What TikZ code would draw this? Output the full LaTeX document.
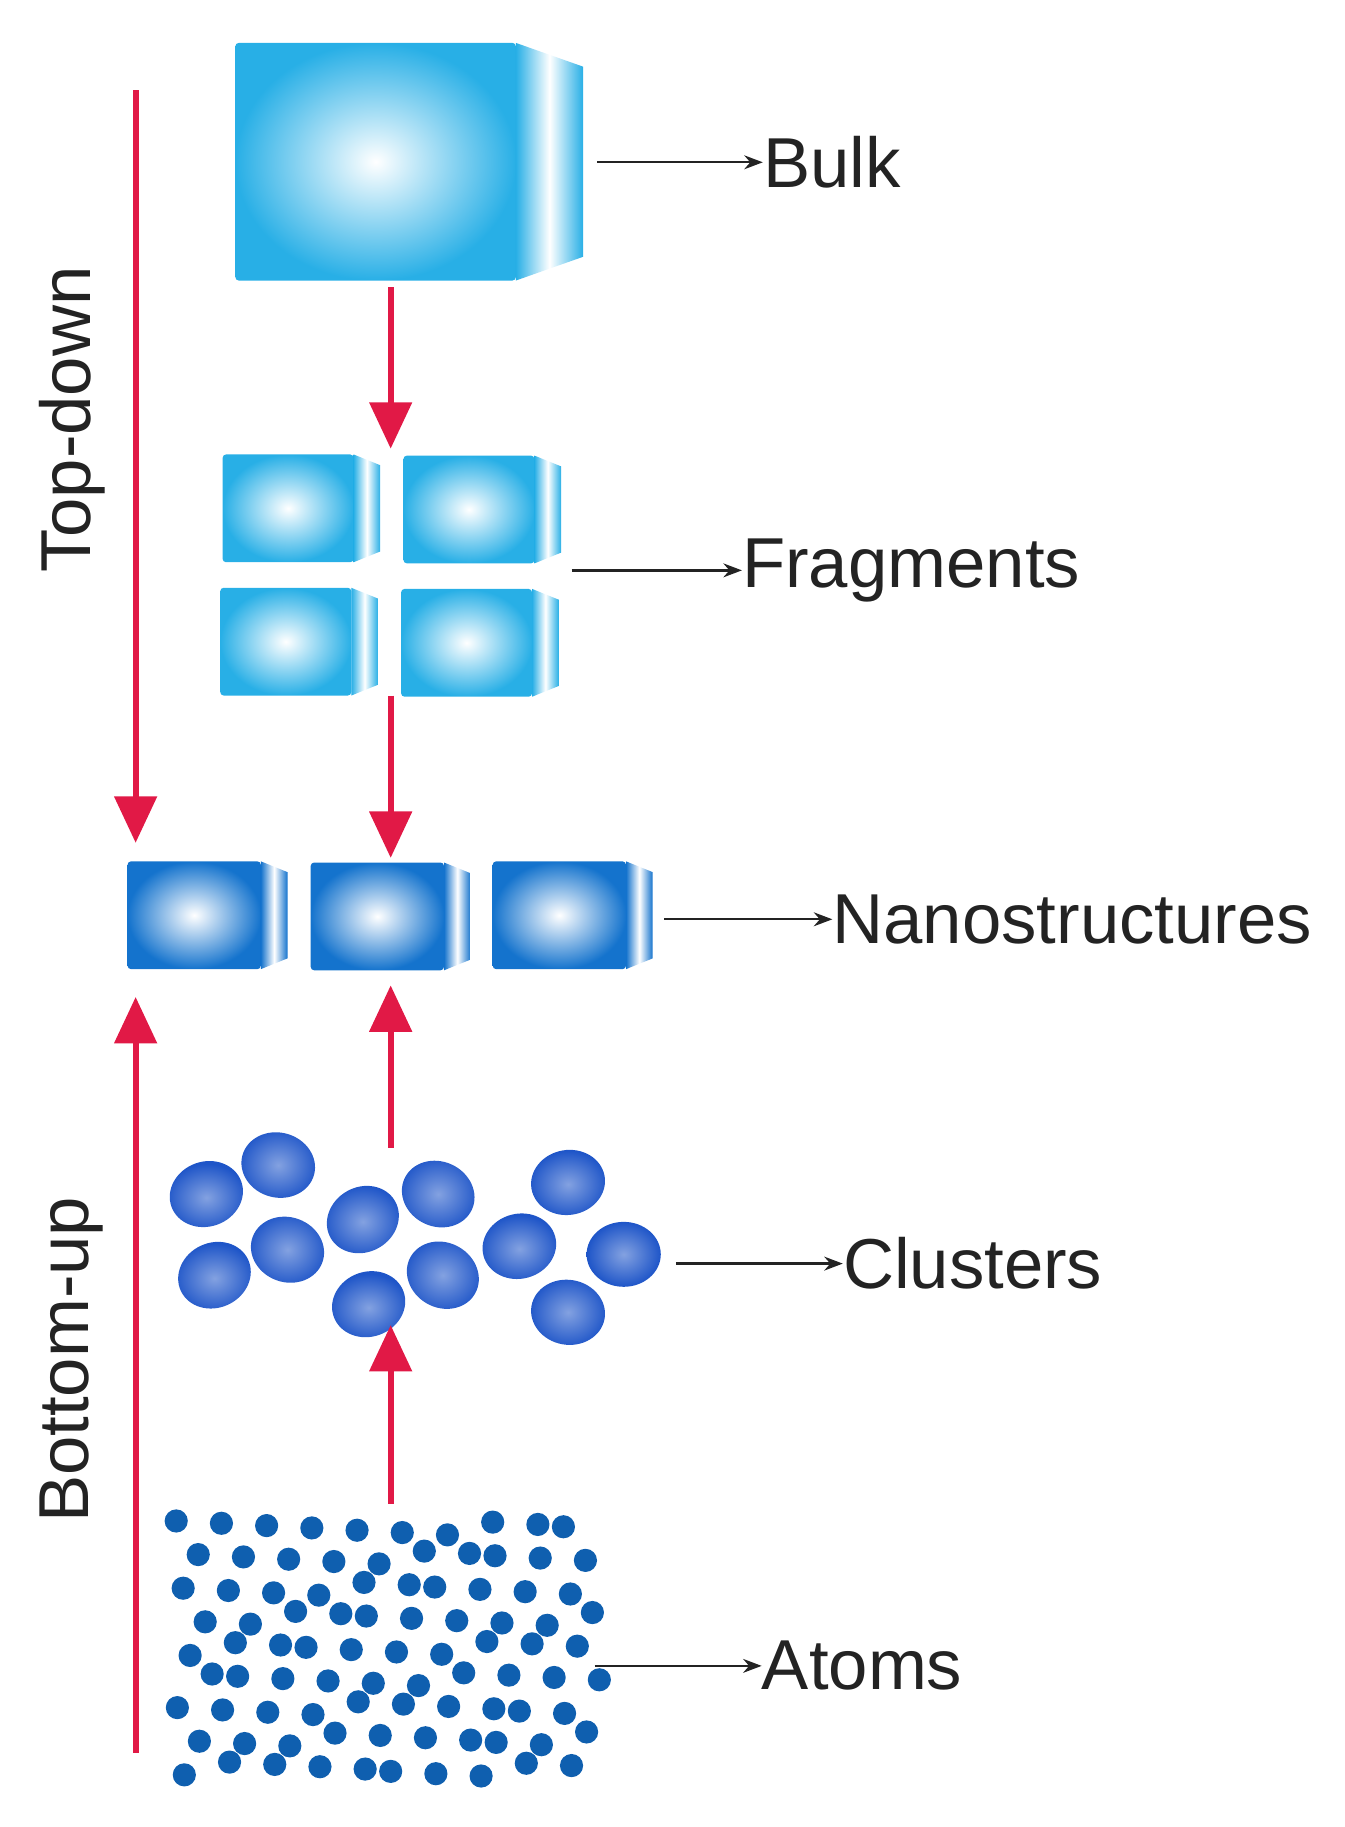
\documentclass[tikz,border=0pt]{standalone}
\usepackage{fontspec}
\setmainfont{Liberation Sans}
\usetikzlibrary{arrows.meta}
\definecolor{bulkblue}{RGB}{40,175,230}
\definecolor{nanoblue}{RGB}{20,115,205}
\definecolor{clusterblue}{RGB}{30,85,200}
\definecolor{atomblue}{RGB}{15,95,175}
\definecolor{redarrow}{RGB}{225,25,70}
\definecolor{labelgray}{RGB}{35,35,35}
\tikzset{
  redflow/.style={draw=redarrow, line width=5pt, -{Triangle[width=36pt,length=40pt]}, redarrow},
  pointer/.style={draw=labelgray, line width=2pt, -{Stealth[length=16pt,width=12pt]}},
  tag/.style={anchor=west, inner sep=0pt, text=labelgray, font=\fontsize{61}{70}\selectfont},
  side/.style={inner sep=0pt, rotate=90, text=labelgray, font=\fontsize{61}{70}\selectfont}
}
% crystal block: x, y, main width, face width, height, colour
\newcommand{\crystal}[6]{
  \shade[inner color=white, outer color=#6, rounded corners=3pt]
    (#1,#2) rectangle ++(#3,#5);
  \shade[left color=#6, right color=#6, middle color=white]
    (#1+#3,#2) -- ++(#4,{0.1*#5}) -- ++(0,{0.8*#5}) -- ++(-#4,{0.1*#5}) -- cycle;
}
\begin{document}
\begin{tikzpicture}[x=1pt,y=-1pt]
  \useasboundingbox (0,0) rectangle (1160,1576);
  % bulk
  \crystal{203}{37}{242}{58}{205}{bulkblue}
  % fragments
  \crystal{192}{392}{113}{23}{93}{bulkblue}
  \crystal{348}{393}{113}{23}{93}{bulkblue}
  \crystal{190}{507}{113}{23}{93}{bulkblue}
  \crystal{346}{508}{113}{23}{93}{bulkblue}
  % nanostructures
  \crystal{110}{743}{115}{23}{93}{nanoblue}
  \crystal{268}{744}{115}{23}{93}{nanoblue}
  \crystal{425}{743}{115}{23}{93}{nanoblue}
  % clusters
  \foreach \cx/\cy/\ang in {178/1030/20,240/1005/-15,185/1100/25,248/1078/-20,
      313/1052/30,378/1030/-25,490/1020/10,382/1100/-30,448/1075/15,
      318/1125/20,538/1082/0,490/1132/-10}
    \shade[inner color=clusterblue!55, outer color=clusterblue, rotate around={\ang:(\cx,\cy)}]
      (\cx,\cy) ellipse (32 and 28);
  % atoms
  \foreach \i in {0,...,8}
    \foreach \j in {0,...,9}{
      \pgfmathsetmacro{\ax}{160+\j*37+mod(\i,2)*16+mod(\i*37+\j*53,17)-8}
      \pgfmathsetmacro{\ay}{1318+\i*26+mod(\i*29+\j*41,13)-6}
      \fill[atomblue] (\ax,\ay) circle (10);
    }
  % labels
  \node[tag] (bulk) at (658,140) {Bulk};
  \node[tag] (frag) at (640,492) {Fragments};
  \node[tag] (nano) at (718,793) {Nanostructures};
  \node[tag] (clus) at (727,1090) {Clusters};
  \node[tag] (atom) at (657,1437) {Atoms};
  \node[side] (topdown) at (62,362) {Top-down};
  \node[side] (bottomup) at (62,1173) {Bottom-up};
  \coordinate (bulkR) at (515,140);
  \coordinate (fragR) at (493,492);
  \coordinate (nanoR) at (573,793);
  \coordinate (clusR) at (583,1090);
  \coordinate (atomR) at (513,1437);
  \draw[pointer] (bulkR) -- (bulk);
  \draw[pointer] (fragR) -- (frag);
  \draw[pointer] (nanoR) -- (nano);
  \draw[pointer] (clusR) -- (clus);
  \draw[pointer] (atomR) -- (atom);
  % red flow arrows
  \coordinate (tdS) at (117,78);   \coordinate (tdE) at (117,727);
  \coordinate (buS) at (117,1512); \coordinate (buE) at (117,860);
  \coordinate (m1S) at (337,248);  \coordinate (m1E) at (337,387);
  \coordinate (m2S) at (337,600);  \coordinate (m2E) at (337,740);
  \coordinate (m3S) at (337,990);  \coordinate (m3E) at (337,850);
  \coordinate (m4S) at (337,1297); \coordinate (m4E) at (337,1143);
  \draw[redflow] (tdS) -- (tdE);
  \draw[redflow] (buS) -- (buE);
  \draw[redflow] (m1S) -- (m1E);
  \draw[redflow] (m2S) -- (m2E);
  \draw[redflow] (m3S) -- (m3E);
  \draw[redflow] (m4S) -- (m4E);
\end{tikzpicture}
\end{document}
